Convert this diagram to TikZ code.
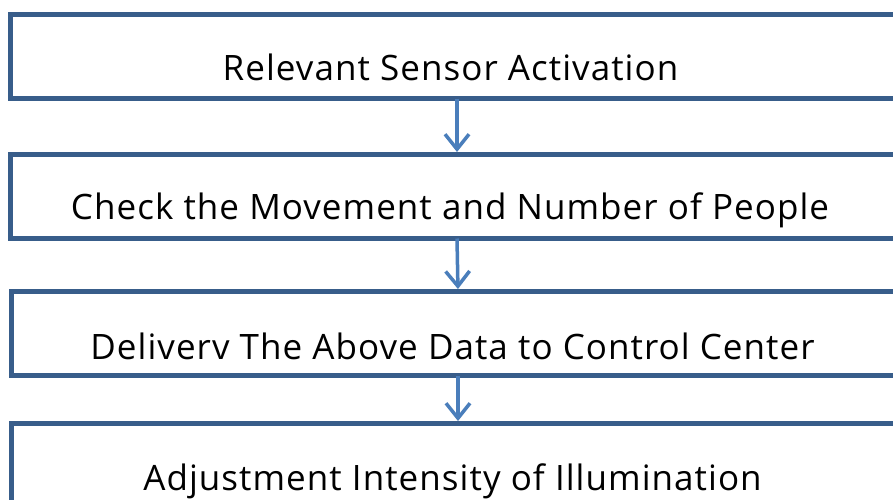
\documentclass[tikz,border=0pt]{standalone}
\usepackage{fontspec}
\setmainfont{Open Sans}[LetterSpace=3]
\usetikzlibrary{arrows.meta}
\definecolor{boxblue}{RGB}{56,93,138}
\definecolor{arrowblue}{RGB}{74,126,187}
\begin{document}
\begin{tikzpicture}[x=1pt,y=-1pt,
  stepbox/.style={draw=boxblue, line width=5pt, fill=white, minimum width=893pt,
    minimum height=84pt, inner sep=0pt, outer sep=0pt, anchor=north west},
  flowarrow/.style={draw=arrowblue, line width=3.5pt,
    -{Straight Barb[length=15pt,width=24pt]}, shorten >=2.5pt},
  steptext/.style={anchor=base, font=\fontsize{35}{41}\selectfont, inner sep=0pt, text=black}]
\useasboundingbox (0,0) rectangle (893,499);
\clip (0,0) rectangle (893,499);
\node[stepbox] (b1) at (10.5,14.5) {};
\node[stepbox] (b2) at (10.5,154.5) {};
\node[stepbox] (b3) at (11.5,291.5) {};
\node[stepbox] (b4) at (11.5,423.5) {};
\node[steptext] (t1) at (450.5,80) {Relevant Sensor Activation};
\node[steptext] (t2) at (450,219) {Check the Movement and Number of People};
\node[steptext] (t3) at (452.5,359) {Deliverv The Above Data to Control Center};
\node[steptext] (t4) at (452.5,490) {Adjustment Intensity of Illumination};
\draw[flowarrow] (b1.south) -- (b2.north);
\draw[flowarrow] (b2.south) -- (b3.north);
\draw[flowarrow] (b3.south) -- (b4.north);
\end{tikzpicture}
\end{document}
